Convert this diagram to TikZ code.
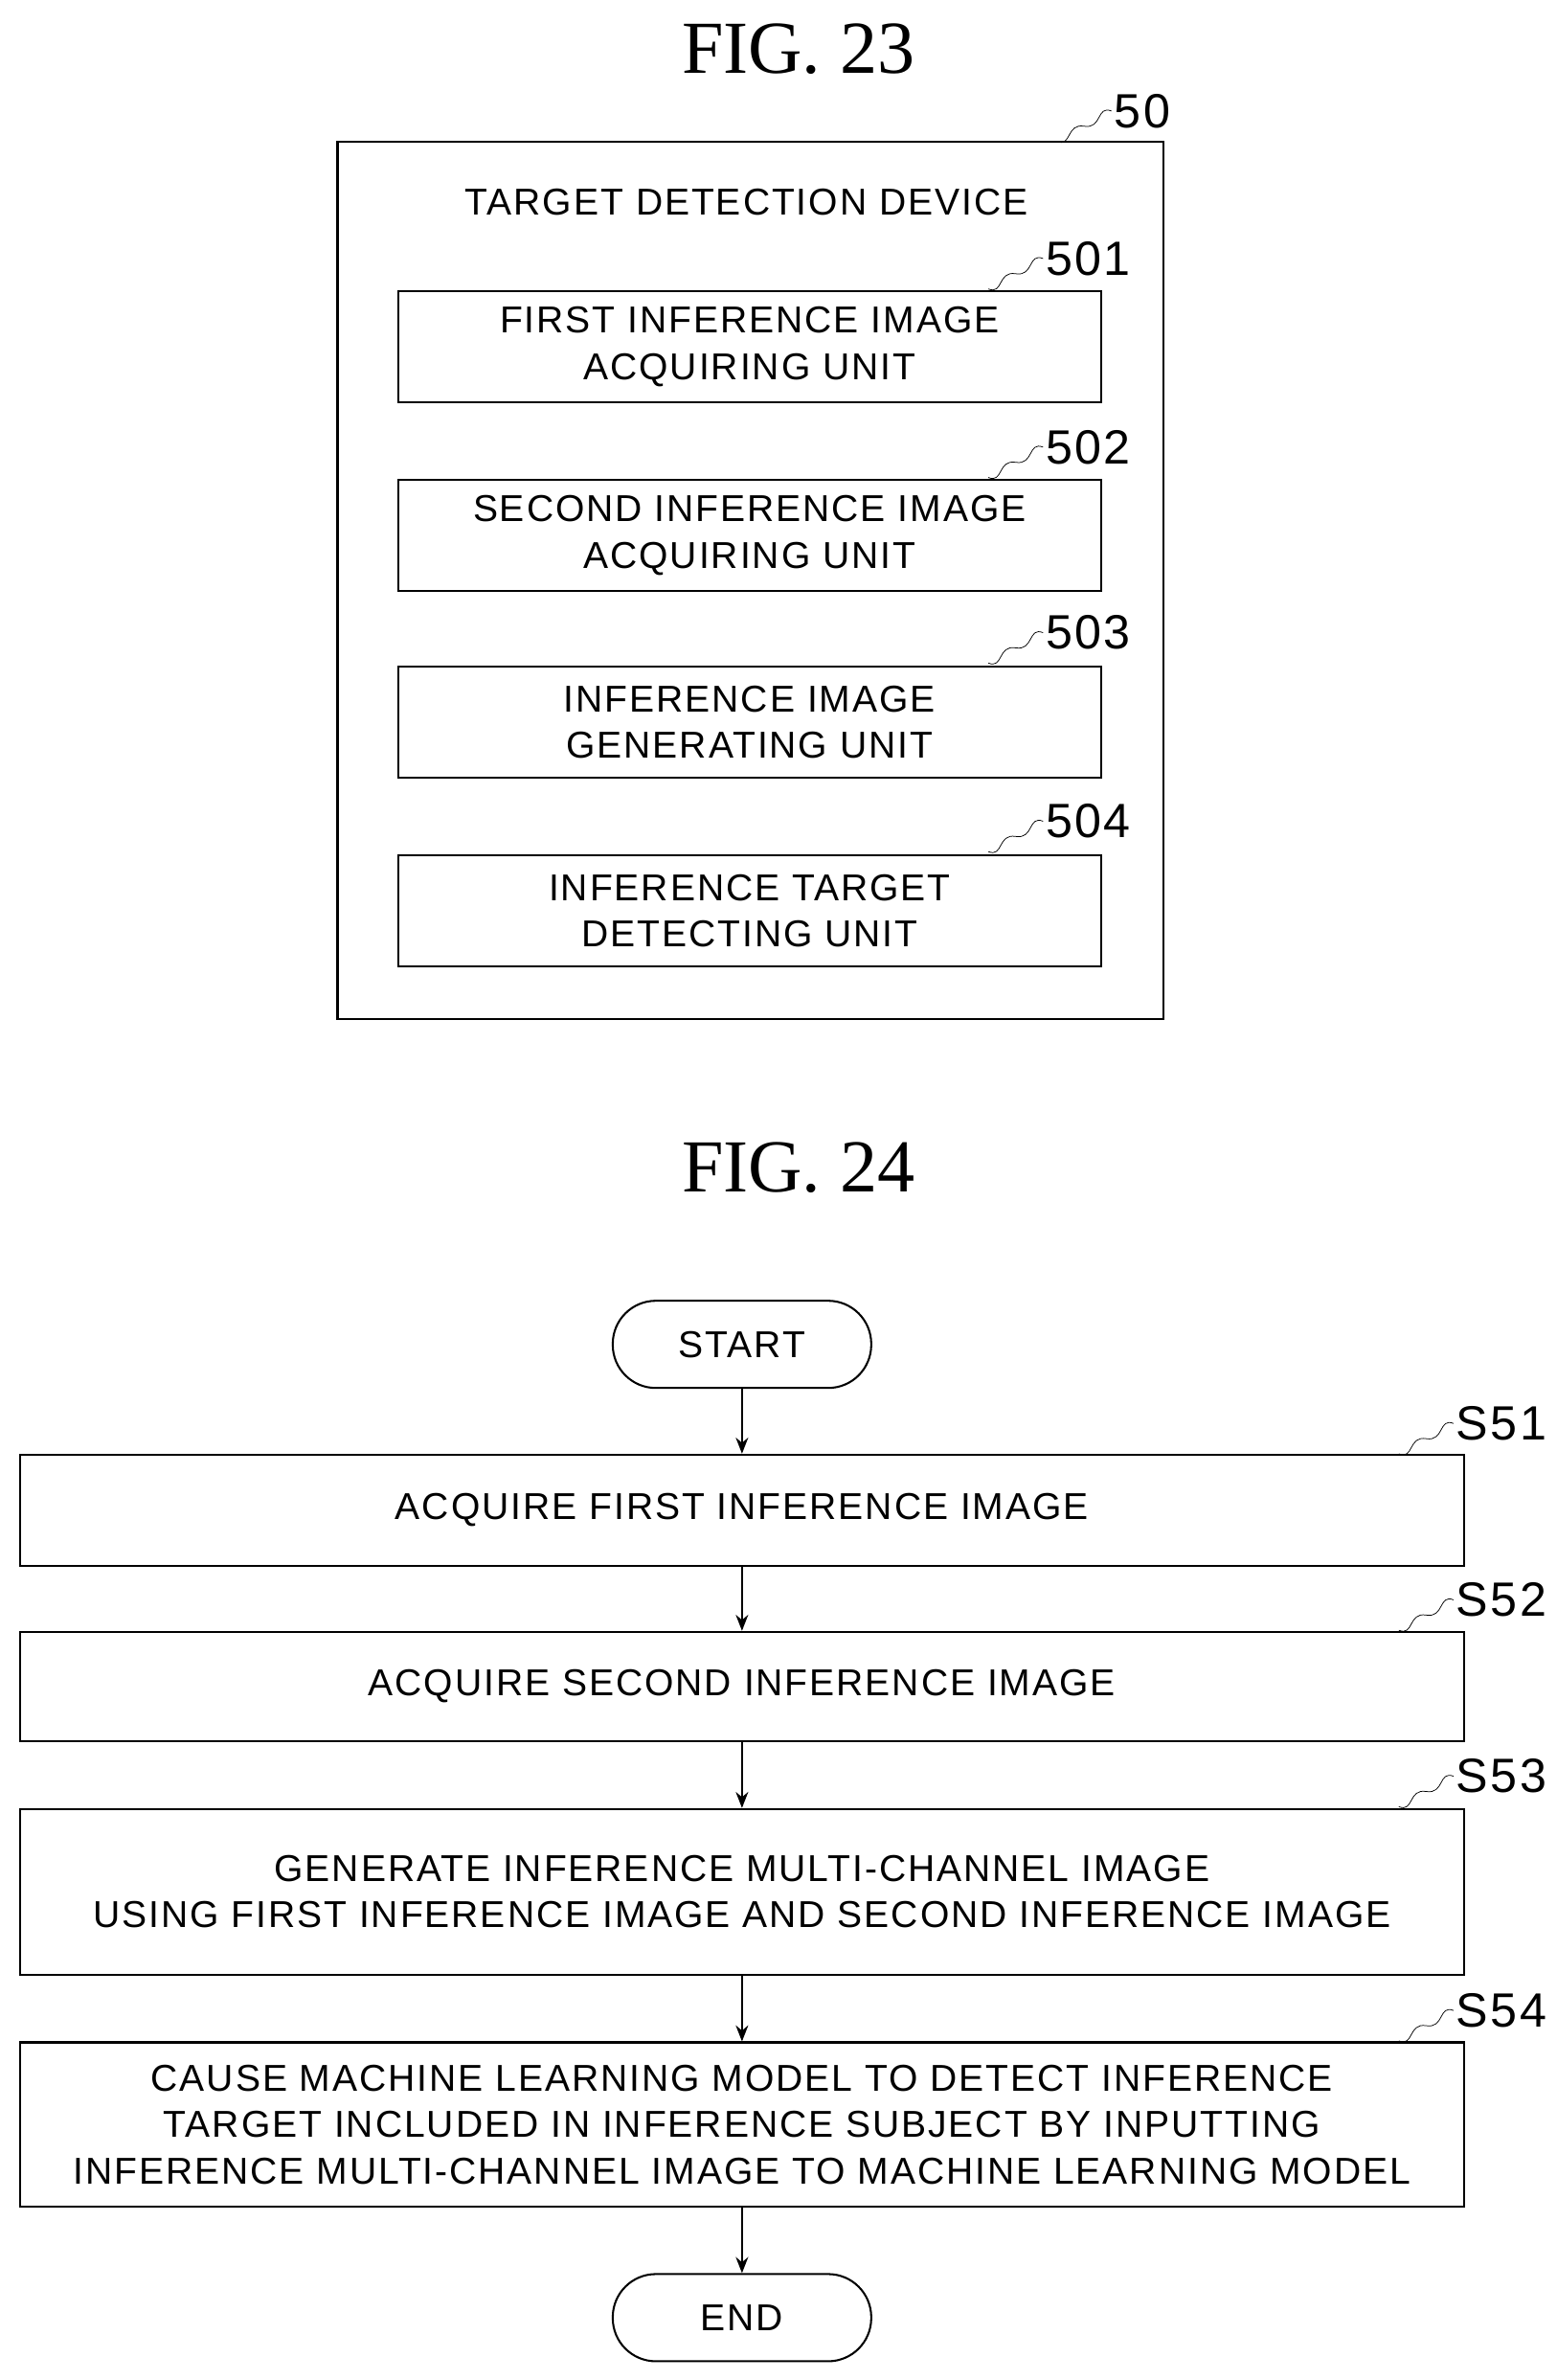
\documentclass[tikz,border=0pt]{standalone}
\usepackage{fontspec}
\setmainfont{Liberation Sans}[LetterSpace=5]
\newfontfamily\figfont{Liberation Serif}
\usetikzlibrary{arrows.meta}
\newcommand{\refsquig}[3]{% start point, label text, name
  \draw[thin] (#1) .. controls +(10,4) and +(-12,-2) .. ++(18,-10)
    .. controls +(12,2) and +(-10,-4) .. ++(18,-10) coordinate (#3);
  \node[anchor=west, inner sep=1pt, font=\fontsize{27}{27}\selectfont] at (#3) {#2};}
\begin{document}
\begin{tikzpicture}[x=0.03cm, y=-0.03cm, line width=1.1pt,
  unitbox/.style={draw, minimum width=13.86cm, minimum height=2.2cm, align=center,
    inner sep=0pt, font=\fontsize{21}{26}\selectfont},
  stepbox/.style={draw, minimum width=28.5cm, align=center, inner sep=0pt,
    font=\fontsize{21}{26}\selectfont},
  term/.style={draw, rounded corners=0.85cm, minimum width=5.1cm, minimum height=1.72cm,
    inner sep=0pt, font=\fontsize{21}{26}\selectfont},
  figlabel/.style={font=\figfont\fontsize{42}{42}\selectfont},
  flow/.style={-{Stealth[length=9pt,width=7pt]}}]
\useasboundingbox (0,0) rectangle (1024,1565);

% FIG. 23
\node[figlabel] (fig23) at (525,32) {FIG. 23};
\draw (222,93) rectangle (765,670);
\refsquig{695,93}{50}{r50}
\node[font=\fontsize{21}{26}\selectfont] (title) at (491,133) {TARGET DETECTION DEVICE};
\node[unitbox] (u501) at (493,228) {FIRST INFERENCE IMAGE\\ACQUIRING UNIT};
\node[unitbox] (u502) at (493,352) {SECOND INFERENCE IMAGE\\ACQUIRING UNIT};
\node[unitbox] (u503) at (493,475) {INFERENCE IMAGE\\GENERATING UNIT};
\node[unitbox] (u504) at (493,599) {INFERENCE TARGET\\DETECTING UNIT};
\refsquig{650,190}{501}{r501}
\refsquig{650,314}{502}{r502}
\refsquig{650,436}{503}{r503}
\refsquig{650,560}{504}{r504}

% FIG. 24
\node[figlabel] (fig24) at (525,768) {FIG. 24};
\node[term] (start) at (488,884) {START};
\node[stepbox, minimum height=2.19cm] (s51) at (488,993) {ACQUIRE FIRST INFERENCE IMAGE};
\node[stepbox, minimum height=2.16cm] (s52) at (488,1109) {ACQUIRE SECOND INFERENCE IMAGE};
\node[stepbox, minimum height=3.27cm] (s53) at (488,1244) {GENERATE INFERENCE MULTI-CHANNEL IMAGE\\USING FIRST INFERENCE IMAGE AND SECOND INFERENCE IMAGE};
\node[stepbox, minimum height=3.24cm] (s54) at (488,1397) {CAUSE MACHINE LEARNING MODEL TO DETECT INFERENCE\\TARGET INCLUDED IN INFERENCE SUBJECT BY INPUTTING\\INFERENCE MULTI-CHANNEL IMAGE TO MACHINE LEARNING MODEL};
\node[term] (end) at (488,1524) {END};
\refsquig{920,956}{S51}{r51}
\refsquig{920,1072}{S52}{r52}
\refsquig{920,1188}{S53}{r53}
\refsquig{920,1342}{S54}{r54}
\draw[flow] (start) -- (s51);
\draw[flow] (s51) -- (s52);
\draw[flow] (s52) -- (s53);
\draw[flow] (s53) -- (s54);
\draw[flow] (s54) -- (end);
\end{tikzpicture}
\end{document}
